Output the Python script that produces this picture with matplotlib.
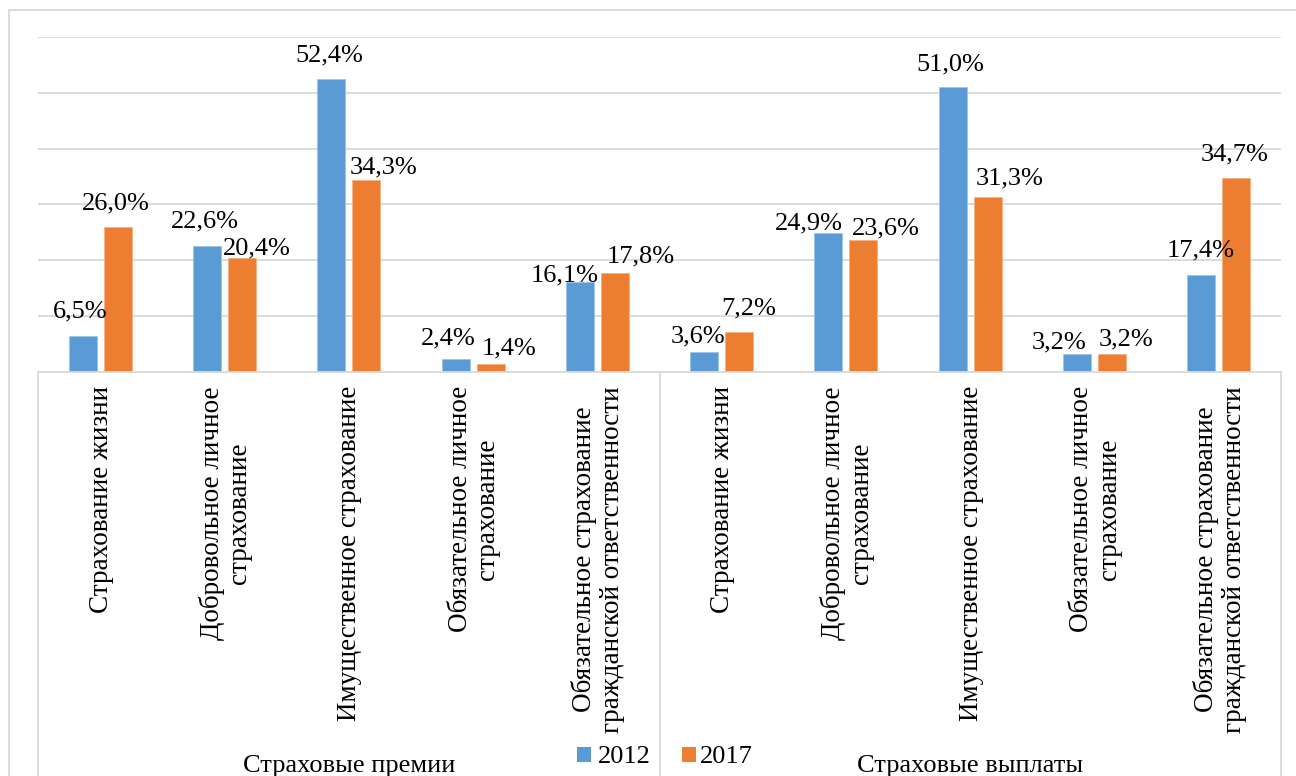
import matplotlib
matplotlib.use("Agg")
import matplotlib.pyplot as plt
from matplotlib.patches import Rectangle
from matplotlib.lines import Line2D

# ---- data ----
groups = ["Страховые премии", "Страховые выплаты"]
categories = [
    "Страхование жизни",
    "Добровольное личное\nстрахование",
    "Имущественное страхование",
    "Обязательное личное\nстрахование",
    "Обязательное страхование\nгражданской ответственности",
]
years = ["2012", "2017"]
premiums_2012 = [6.5, 22.6, 52.4, 2.4, 16.1]
premiums_2017 = [26.0, 20.4, 34.3, 1.4, 17.8]
payouts_2012 = [3.6, 24.9, 51.0, 3.2, 17.4]
payouts_2017 = [7.2, 23.6, 31.3, 3.2, 34.7]
y_ticks = [0, 10, 20, 30, 40, 50, 60]

# label nudges (pixels: dx, gap above bar top)
nudge_2012 = [(-2, 18), (-2, 18), (-2, 18), (-7, 14), (-15, 1),
              (-6, 9), (-20, 4), (-2, 17), (-18, 6), (-1, 18)]
nudge_2017 = [(-2, 17), (15, 4), (17, 7), (18, 10), (26, 10),
              (10, 17), (22, 6), (22, 13), (14, 9), (-2, 18)]

BLUE = "#5B9BD5"
ORANGE = "#ED7D31"
GRID = "#D9D9D9"
FONT = "Liberation Serif"
FS = 19

W, H, DPI = 1296, 776, 100
fig = plt.figure(figsize=(W / DPI, H / DPI), dpi=DPI)
fig.patch.set_facecolor("white")

# plot area in pixels
x0, x1 = 38, 1281
y_base, y_top = 372, 37
ax = fig.add_axes([x0 / W, (H - y_base) / H, (x1 - x0) / W, (y_base - y_top) / H])

v2012 = premiums_2012 + payouts_2012
v2017 = premiums_2017 + payouts_2017
labels = categories + categories
n = len(v2012)
centers = [i + 0.5 for i in range(n)]
off, bw = 0.141, 0.225

bars1 = ax.bar([c - off for c in centers], v2012, width=bw, color=BLUE,
               edgecolor="#9CC3E6", linewidth=0.6, zorder=3, label=years[0])
bars2 = ax.bar([c + off for c in centers], v2017, width=bw, color=ORANGE,
               edgecolor="#F4B183", linewidth=0.6, zorder=3, label=years[1])

ax.set_xlim(0, n)
ax.set_ylim(y_ticks[0], y_ticks[-1])
ax.set_yticks(y_ticks)
ax.yaxis.grid(True, color=GRID, linewidth=1.3, zorder=0)
ax.tick_params(left=False, bottom=False, labelleft=False, labelbottom=False)
for s in ax.spines.values():
    s.set_visible(False)

pt = 72 / DPI
for bars, vals, nudges in ((bars1, v2012, nudge_2012), (bars2, v2017, nudge_2017)):
    for b, v, (dx, dy) in zip(bars, vals, nudges):
        ax.annotate(f"{v:.1f}%".replace(".", ","),
                    (b.get_x() + b.get_width() / 2, v),
                    xytext=(dx * pt, dy * pt), textcoords="offset points",
                    ha="center", va="baseline", fontsize=FS, family=FONT,
                    color="black", zorder=5)

# figure-pixel helpers
def fx(px):
    return px / W

def fy(py):
    return (H - py) / H

# outer chart border
fig.add_artist(Rectangle((fx(9), fy(H + 20)), (W + 20) / W, (H + 10) / H,
                         transform=fig.transFigure, fill=False,
                         edgecolor=GRID, linewidth=1.3))

# category axis: baseline and group dividers
fig.add_artist(Line2D([fx(x0), fx(x1)], [fy(y_base), fy(y_base)],
                      transform=fig.transFigure, color=GRID, linewidth=1.3))
for k in (0, 5, 10):
    xp = x0 + (x1 - x0) * k / n
    fig.add_artist(Line2D([fx(xp), fx(xp)], [fy(y_base), fy(H + 5)],
                          transform=fig.transFigure, color=GRID, linewidth=1.3))

# rotated category labels
for c, lab in zip(centers, labels):
    xp = x0 + (x1 - x0) * c / n
    fig.text(fx(xp + 1), fy(386), lab, rotation=90, ha="center", va="top",
             multialignment="center", fontsize=FS + 0.5, family=FONT,
             linespacing=1.15)

# group labels
for g, name in enumerate(groups):
    xp = x0 + (x1 - x0) * (g * 5 + 2.5) / n
    fig.text(fx(xp), fy(766), name, ha="center", va="center",
             fontsize=FS, family=FONT)

# legend
for px_sq, px_txt, col, yr in ((577, 598, BLUE, years[0]), (682, 700, ORANGE, years[1])):
    fig.add_artist(Rectangle((fx(px_sq), fy(762)), 14 / W, 15 / H,
                             transform=fig.transFigure, facecolor=col,
                             edgecolor="none"))
    fig.text(fx(px_txt), fy(763), yr, ha="left", va="baseline",
             fontsize=FS, family=FONT)

fig.savefig("out.png", dpi=DPI)
